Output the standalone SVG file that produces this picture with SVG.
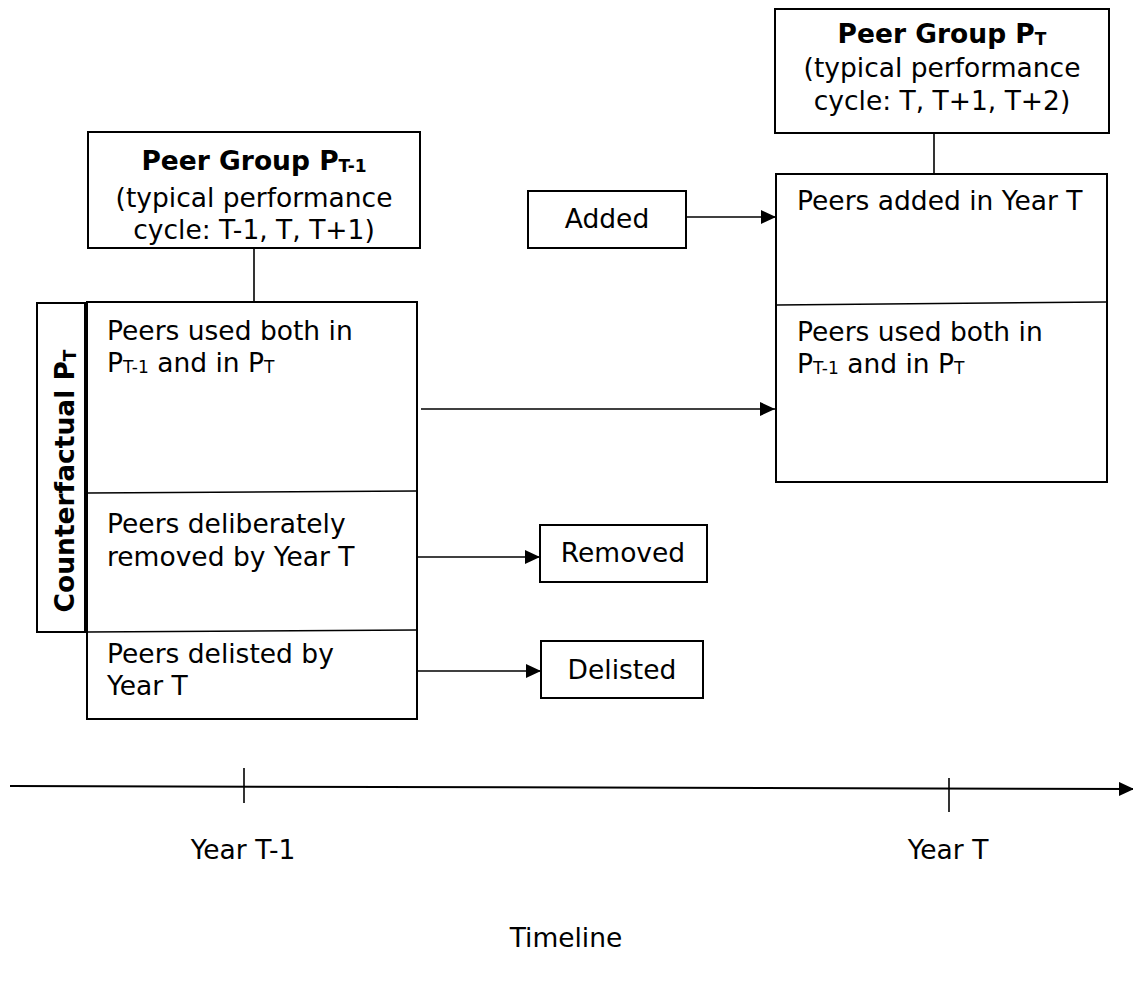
<svg xmlns="http://www.w3.org/2000/svg" width="1133" height="981" viewBox="0 0 1133 981">
<style>
  .box { fill: #fff; stroke: #000; stroke-width: 2; }
  .ln { stroke: #000; stroke-width: 1.6; fill: none; }
  .t { font-family: "DejaVu Sans", Verdana, sans-serif; font-size: 26.5px; fill: #000; }
  .b { font-weight: bold; }
  .s { font-size: 17px; }
  .c { text-anchor: middle; }
</style>
<defs>
  <marker id="arr" markerUnits="userSpaceOnUse" markerWidth="16" markerHeight="14" refX="15" refY="7" orient="auto">
    <path d="M0,0 L15,7 L0,14 z" fill="#000"/>
  </marker>
</defs>
<rect width="1133" height="981" fill="#fff"/>

<g id="connectors">
  <line class="ln" x1="254" y1="248" x2="254" y2="302"/>
  <line class="ln" x1="934" y1="133" x2="934" y2="174"/>
  <line class="ln" x1="687" y1="217" x2="776" y2="217" marker-end="url(#arr)"/>
  <line class="ln" x1="421" y1="409" x2="775" y2="409" marker-end="url(#arr)"/>
  <line class="ln" x1="418" y1="557" x2="540" y2="557" marker-end="url(#arr)"/>
  <line class="ln" x1="418" y1="671" x2="541" y2="671" marker-end="url(#arr)"/>
</g>

<g id="peer-group-t-1">
  <rect class="box" x="88" y="132" width="332" height="116"/>
  <text class="t b c" x="254" y="170">Peer Group P<tspan class="s" dy="2">T-1</tspan></text>
  <text class="t c" x="254" y="207">(typical performance</text>
  <text class="t c" x="254" y="239">cycle: T-1, T, T+1)</text>
</g>

<g id="peer-group-t">
  <rect class="box" x="775" y="9" width="334" height="124"/>
  <text class="t b c" x="942" y="43">Peer Group P<tspan class="s" dy="2">T</tspan></text>
  <text class="t c" x="942" y="77">(typical performance</text>
  <text class="t c" x="942" y="110">cycle: T, T+1, T+2)</text>
</g>

<g id="counterfactual">
  <rect class="box" x="37" y="303" width="48" height="329"/>
  <text class="t b c" transform="translate(74,481) rotate(-90)">Counterfactual P<tspan class="s" dy="2">T</tspan></text>
</g>

<g id="left-group">
  <rect class="box" x="87" y="302" width="330" height="417"/>
  <line class="ln" x1="88" y1="493" x2="416" y2="491" stroke-width="2"/>
  <line class="ln" x1="88" y1="632" x2="416" y2="630" stroke-width="2"/>
  <text class="t" x="107" y="340">Peers used both in</text>
  <text class="t" x="107" y="372">P<tspan class="s" dy="1">T-1</tspan><tspan dy="-1"> and in P</tspan><tspan class="s" dy="1">T</tspan></text>
  <text class="t" x="107" y="533">Peers deliberately</text>
  <text class="t" x="107" y="566">removed by Year T</text>
  <text class="t" x="107" y="663">Peers delisted by</text>
  <text class="t" x="107" y="695">Year T</text>
</g>

<g id="right-group">
  <rect class="box" x="776" y="174" width="331" height="308"/>
  <line class="ln" x1="777" y1="305" x2="1106" y2="302" stroke-width="2"/>
  <text class="t" x="797" y="210">Peers added in Year T</text>
  <text class="t" x="797" y="341">Peers used both in</text>
  <text class="t" x="797" y="373">P<tspan class="s" dy="1">T-1</tspan><tspan dy="-1"> and in P</tspan><tspan class="s" dy="1">T</tspan></text>
</g>

<g id="added">
  <rect class="box" x="528" y="191" width="158" height="57"/>
  <text class="t c" x="607" y="228">Added</text>
</g>

<g id="removed">
  <rect class="box" x="540" y="525" width="167" height="57"/>
  <text class="t c" x="623" y="562">Removed</text>
</g>

<g id="delisted">
  <rect class="box" x="541" y="641" width="162" height="57"/>
  <text class="t c" x="622" y="679">Delisted</text>
</g>

<g id="timeline">
  <line x1="10" y1="786" x2="1134" y2="789" stroke="#000" stroke-width="2" marker-end="url(#arr)"/>
  <line class="ln" x1="244" y1="768" x2="244" y2="803"/>
  <line class="ln" x1="949" y1="778" x2="949" y2="812"/>
  <text class="t c" x="243" y="859">Year T-1</text>
  <text class="t c" x="948" y="859">Year T</text>
  <text class="t c" x="566" y="947">Timeline</text>
</g>
</svg>
